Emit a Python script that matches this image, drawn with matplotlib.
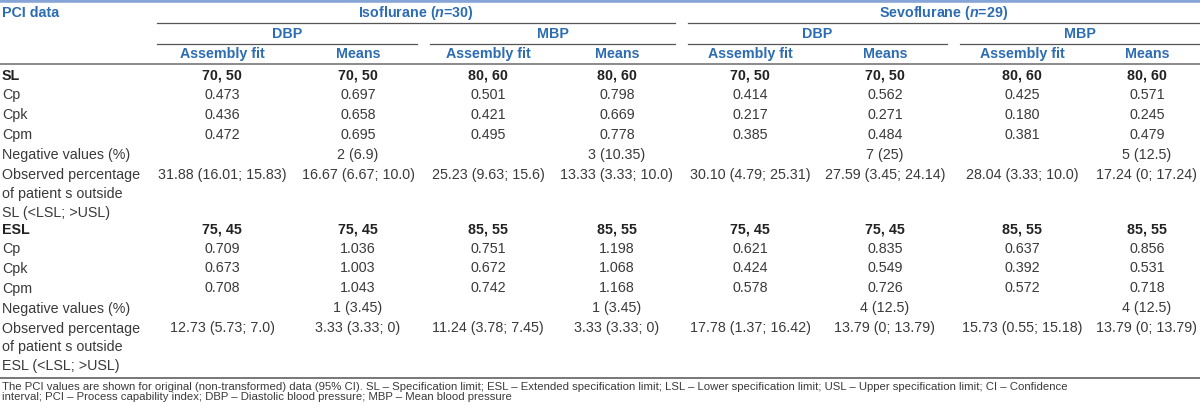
import matplotlib
matplotlib.use("Agg")
import matplotlib.pyplot as plt

plt.rcParams['font.family'] = ['Liberation Sans', 'DejaVu Sans']
plt.rcParams['mathtext.fontset'] = 'custom'
plt.rcParams['mathtext.bfit'] = 'Liberation Sans:italic:bold'
plt.rcParams['mathtext.rm'] = 'Liberation Sans:bold'

# table content
groups = [r'Isoflurane ($\bfit{n}$=30)', r'Sevoflurane ($\bfit{n}$=29)']
measures = ['DBP', 'MBP', 'DBP', 'MBP']
methods = ['Assembly fit', 'Means'] * 4

row_labels = ['SL', 'Cp', 'Cpk', 'Cpm', 'Negative values (%)',
              'Observed percentage\nof patient s outside\nSL (<LSL; >USL)',
              'ESL', 'Cp', 'Cpk', 'Cpm', 'Negative values (%)',
              'Observed percentage\nof patient s outside\nESL (<LSL; >USL)']

sl_limits = ['70, 50', '70, 50', '80, 60', '80, 60', '70, 50', '70, 50', '80, 60', '80, 60']
sl_cp = ['0.473', '0.697', '0.501', '0.798', '0.414', '0.562', '0.425', '0.571']
sl_cpk = ['0.436', '0.658', '0.421', '0.669', '0.217', '0.271', '0.180', '0.245']
sl_cpm = ['0.472', '0.695', '0.495', '0.778', '0.385', '0.484', '0.381', '0.479']
sl_neg = ['', '2 (6.9)', '', '3 (10.35)', '', '7 (25)', '', '5 (12.5)']
sl_obs = ['31.88 (16.01; 15.83)', '16.67 (6.67; 10.0)', '25.23 (9.63; 15.6)', '13.33 (3.33; 10.0)',
          '30.10 (4.79; 25.31)', '27.59 (3.45; 24.14)', '28.04 (3.33; 10.0)', '17.24 (0; 17.24)']

esl_limits = ['75, 45', '75, 45', '85, 55', '85, 55', '75, 45', '75, 45', '85, 55', '85, 55']
esl_cp = ['0.709', '1.036', '0.751', '1.198', '0.621', '0.835', '0.637', '0.856']
esl_cpk = ['0.673', '1.003', '0.672', '1.068', '0.424', '0.549', '0.392', '0.531']
esl_cpm = ['0.708', '1.043', '0.742', '1.168', '0.578', '0.726', '0.572', '0.718']
esl_neg = ['', '1 (3.45)', '', '1 (3.45)', '', '4 (12.5)', '', '4 (12.5)']
esl_obs = ['12.73 (5.73; 7.0)', '3.33 (3.33; 0)', '11.24 (3.78; 7.45)', '3.33 (3.33; 0)',
           '17.78 (1.37; 16.42)', '13.79 (0; 13.79)', '15.73 (0.55; 15.18)', '13.79 (0; 13.79)']

rows = [sl_limits, sl_cp, sl_cpk, sl_cpm, sl_neg, sl_obs,
        esl_limits, esl_cp, esl_cpk, esl_cpm, esl_neg, esl_obs]
bold_rows = [0, 6]

footnote = ("The PCI values are shown for original (non-transformed) data (95% CI). SL \u2013 Specification limit; "
            "ESL \u2013 Extended specification limit; LSL \u2013 Lower specification limit; USL \u2013 Upper "
            "specification limit; CI \u2013 Confidence\ninterval; PCI \u2013 Process capability index; "
            "DBP \u2013 Diastolic blood pressure; MBP \u2013 Mean blood pressure")

# layout (pixels)
col_x = [222, 358, 488, 617, 750, 885, 1022, 1147]
group_span = [(157, 675), (688, 1200)]
measure_span = [(157, 417), (430, 675), (688, 947), (960, 1200)]
row_y = [75, 95, 115, 135, 155, 175, 230, 249, 268, 288, 308, 328]

blue = '#2c6cb2'
txt = '#3a3a3a'
fs = 10.3

fig = plt.figure(figsize=(12, 4.07), dpi=100)
ax = fig.add_axes([0, 0, 1, 1])
ax.set_xlim(0, 1200)
ax.set_ylim(407, 0)
ax.axis('off')

# top border
ax.axhline(1.2, color='#86a5d6', lw=2.6)

# header
ax.text(2, 13, 'PCI data', color=blue, fontsize=fs, fontweight='bold', va='center')
for g, (x0, x1) in zip(groups, group_span):
    ax.text((x0 + x1) / 2, 13, g, color=blue, fontsize=fs, fontweight='bold', ha='center', va='center')
    ax.plot([x0, x1], [23, 23], color='#555555', lw=0.9)
for m, (x0, x1) in zip(measures, measure_span):
    ax.text((x0 + x1) / 2, 34, m, color=blue, fontsize=fs, fontweight='bold', ha='center', va='center')
    ax.plot([x0, x1], [44, 44], color='#555555', lw=0.9)
for m, x in zip(methods, col_x):
    ax.text(x, 54, m, color=blue, fontsize=fs, fontweight='bold', ha='center', va='center')
ax.axhline(64, color='#8a8a8a', lw=1.4)

# body
for i, (label, vals, y) in enumerate(zip(row_labels, rows, row_y)):
    w = 'bold' if i in bold_rows else 'normal'
    c = '#222222' if i in bold_rows else txt
    ax.text(2, y - 6.5, label, color=c, fontsize=fs, fontweight=w, va='top', linespacing=1.45)
    for v, x in zip(vals, col_x):
        ax.text(x, y, v, color=c, fontsize=fs, fontweight=w, ha='center', va='center')

ax.axhline(378, color='#777777', lw=1.4)
ax.text(2, 381.5, footnote, color=txt, fontsize=8.2, va='top', linespacing=1.08)

fig.savefig('out.png', dpi=100)
